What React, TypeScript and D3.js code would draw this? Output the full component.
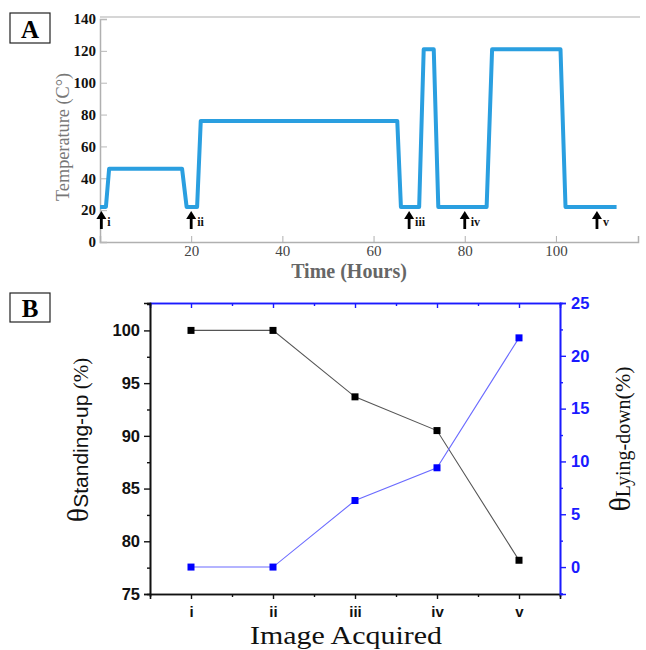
import * as d3 from "d3"
import { useEffect, useRef } from "react"

// panel A: temperature profile (hours, °C)
const timeHours = [0, 1.3, 2, 18, 19, 21.3, 22.1, 65.2, 66, 70, 71, 73.2, 74.2, 84.8, 86, 101, 102.1, 113.3]
const tempC = [22, 22, 46, 46, 22, 22, 76, 76, 22, 22, 121, 121, 22, 22, 121, 121, 22, 22]
const arrowTimes = [0.3, 20, 67.8, 80, 109]
const arrowLabels = ["i", "ii", "iii", "iv", "v"]
const tempTicks = [0, 20, 40, 60, 80, 100, 120, 140]
const timeTicks = [20, 40, 60, 80, 100]

// panel B
const stages = ["i", "ii", "iii", "iv", "v"]
const standingUp = [100, 100, 93.7, 90.5, 78.2]
const lyingDown = [0, 0, 6.3, 9.4, 21.7]
const leftTicks = [75, 80, 85, 90, 95, 100]
const rightTicks = [0, 5, 10, 15, 20, 25]

const serif = "'Liberation Serif', 'Times New Roman', serif"
const sans = "'Liberation Sans', Arial, sans-serif"

const App = () => {
  const ref = useRef<SVGSVGElement>(null)

  useEffect(() => {
    const svg = d3.select(ref.current)
    svg.selectAll("*").remove()

    // ---------- panel A ----------
    const xA = d3.scaleLinear().domain([0, 118]).range([100, 638])
    const yA = d3.scaleLinear().domain([0, 140]).range([242, 19])
    const gA = svg.append("g")

    gA.append("rect").attr("x", 10).attr("y", 13).attr("width", 40).attr("height", 30)
      .attr("fill", "none").attr("stroke", "#222").attr("stroke-width", 1.2)
    gA.append("text").attr("x", 30).attr("y", 38).attr("text-anchor", "middle")
      .attr("font-family", serif).attr("font-weight", "bold").attr("font-size", 25).text("A")

    // frame
    gA.append("line").attr("x1", 100).attr("x2", 640).attr("y1", yA(140) - 2).attr("y2", yA(140) - 2)
      .attr("stroke", "#c8c8c8").attr("stroke-width", 1.5)

    const axA = gA.append("g").attr("transform", `translate(0,${yA(0)})`)
      .call(d3.axisBottom(xA).tickValues(timeTicks).tickSize(-6).tickPadding(3))
    axA.select(".domain").attr("stroke", "#b0b0b0").attr("stroke-width", 1.5)
    axA.selectAll(".tick line").attr("stroke", "#b0b0b0")
    axA.selectAll("text").attr("font-family", serif).attr("font-size", 15).attr("fill", "#444")

    const ayA = gA.append("g").attr("transform", `translate(${xA(0)},0)`)
      .call(d3.axisLeft(yA).tickValues(tempTicks).tickSize(-7).tickPadding(4))
    ayA.select(".domain").attr("stroke", "#b0b0b0").attr("stroke-width", 1.5)
    ayA.selectAll(".tick line").attr("stroke", "#b8b8b8")
    ayA.selectAll("text").attr("font-family", serif).attr("font-weight", "bold")
      .attr("font-size", 15).attr("fill", "#111")

    gA.append("path")
      .datum(timeHours.map((t, i) => [t, tempC[i]] as [number, number]))
      .attr("fill", "none").attr("stroke", "#2a9fe0").attr("stroke-width", 4)
      .attr("stroke-linejoin", "round")
      .attr("d", d3.line().x((d) => xA(d[0])).y((d) => yA(d[1])))

    arrowTimes.forEach((t, i) => {
      const ax = xA(t)
      gA.append("line").attr("x1", ax).attr("x2", ax).attr("y1", 218).attr("y2", 229)
        .attr("stroke", "#000").attr("stroke-width", 2.8)
      gA.append("path").attr("d", `M${ax - 5},219 L${ax},211 L${ax + 5},219 Z`).attr("fill", "#000")
      gA.append("text").attr("x", ax + 6).attr("y", 226)
        .attr("font-family", serif).attr("font-weight", "bold").attr("font-size", 12)
        .attr("fill", "#111").text(arrowLabels[i])
    })

    gA.append("text").attr("x", 349).attr("y", 278).attr("text-anchor", "middle")
      .attr("font-family", serif).attr("font-weight", "bold").attr("font-size", 20)
      .attr("fill", "#666").text("Time (Hours)")
    gA.append("text").attr("transform", "translate(69,137) rotate(-90)").attr("text-anchor", "middle")
      .attr("font-family", serif).attr("font-size", 18).attr("fill", "#777")
      .attr("textLength", 128).attr("lengthAdjust", "spacingAndGlyphs").text("Temperature (C°)")

    // ---------- panel B ----------
    const xB = d3.scaleLinear().domain([0.5, 5.5]).range([150, 560])
    const yL = d3.scaleLinear().domain([75, 102.6]).range([594, 303])
    const yR = d3.scaleLinear().domain([-2.55, 25]).range([594, 303])
    const gB = svg.append("g")

    gB.append("rect").attr("x", 10).attr("y", 293).attr("width", 40).attr("height", 29)
      .attr("fill", "none").attr("stroke", "#222").attr("stroke-width", 1.2)
    gB.append("text").attr("x", 30).attr("y", 317).attr("text-anchor", "middle")
      .attr("font-family", serif).attr("font-weight", "bold").attr("font-size", 25).text("B")

    const minorX = [1.5, 2.5, 3.5, 4.5]
    const style = (g, col) => {
      g.select(".domain").attr("stroke", col).attr("stroke-width", 1.6)
      g.selectAll(".tick line").attr("stroke", col).attr("stroke-width", 1.4)
    }

    // bottom
    const bx = gB.append("g").attr("transform", `translate(0,594)`)
      .call(d3.axisBottom(xB).tickValues([1, 2, 3, 4, 5]).tickFormat((d) => stages[+d - 1]).tickSize(5).tickPadding(7))
    style(bx, "#111")
    bx.selectAll("text").attr("font-family", sans).attr("font-weight", "bold").attr("font-size", 15).attr("fill", "#111")
    gB.append("g").attr("transform", `translate(0,594)`)
      .call(d3.axisBottom(xB).tickValues(minorX).tickSize(3).tickFormat(() => ""))
      .call((g) => style(g, "#111"))
    // top
    gB.append("g").attr("transform", `translate(0,303)`)
      .call(d3.axisTop(xB).tickValues([1, 2, 3, 4, 5]).tickSize(-5).tickFormat(() => ""))
      .call((g) => style(g, "#1a1aff"))
    gB.append("g").attr("transform", `translate(0,303)`)
      .call(d3.axisTop(xB).tickValues(minorX).tickSize(-3).tickFormat(() => ""))
      .call((g) => style(g, "#1a1aff"))

    // left
    const ly = gB.append("g").attr("transform", `translate(150,0)`)
      .call(d3.axisLeft(yL).tickValues(leftTicks).tickSize(6).tickPadding(4))
    style(ly, "#111")
    ly.selectAll("text").attr("font-family", sans).attr("font-weight", "bold").attr("font-size", 16.5).attr("fill", "#111")
    gB.append("g").attr("transform", `translate(150,0)`)
      .call(d3.axisLeft(yL).tickValues([77.5, 82.5, 87.5, 92.5, 97.5, 102.5]).tickSize(3).tickFormat(() => ""))
      .call((g) => style(g, "#111"))

    // right
    const ry = gB.append("g").attr("transform", `translate(560,0)`)
      .call(d3.axisRight(yR).tickValues(rightTicks).tickSize(6).tickPadding(5))
    style(ry, "#1a1aff")
    ry.selectAll("text").attr("font-family", sans).attr("font-weight", "bold").attr("font-size", 16.5).attr("fill", "#1a1aff")
    gB.append("g").attr("transform", `translate(560,0)`)
      .call(d3.axisRight(yR).tickValues([-2.5, 2.5, 7.5, 12.5, 17.5, 22.5]).tickSize(3).tickFormat(() => ""))
      .call((g) => style(g, "#1a1aff"))

    const drawSeries = (vals, y, lineCol, markCol) => {
      gB.append("path")
        .datum(vals.map((v, i) => [i + 1, v] as [number, number]))
        .attr("fill", "none").attr("stroke", lineCol).attr("stroke-width", 1.1)
        .attr("d", d3.line().x((d) => xB(d[0])).y((d) => y(d[1])))
      gB.selectAll(null).data(vals).enter().append("rect")
        .attr("x", (_, i) => xB(i + 1) - 3.5).attr("y", (d) => y(d) - 3.5)
        .attr("width", 7).attr("height", 7).attr("fill", markCol)
    }
    drawSeries(standingUp, yL, "#555", "#000")
    drawSeries(lyingDown, yR, "#6b6bff", "#0000ff")

    gB.append("text").attr("x", 346).attr("y", 644).attr("text-anchor", "middle")
      .attr("font-family", serif).attr("font-size", 26).attr("fill", "#111")
      .attr("textLength", 192).attr("lengthAdjust", "spacingAndGlyphs").text("Image Acquired")

    const lt = gB.append("text").attr("transform", "translate(88,440) rotate(-90)")
      .attr("text-anchor", "middle").attr("fill", "#111")
    lt.append("tspan").attr("font-family", serif).attr("font-size", 30).text("θ")
    lt.append("tspan").attr("font-family", sans).attr("font-size", 21).text("Standing-up")
    lt.append("tspan").attr("font-family", serif).attr("font-size", 21).text(" (%)")

    const rt = gB.append("text").attr("transform", "translate(630,439) rotate(-90)")
      .attr("text-anchor", "middle").attr("fill", "#111")
    rt.append("tspan").attr("font-family", serif).attr("font-size", 30).text("θ")
    rt.append("tspan").attr("font-family", serif).attr("font-size", 20).text("Lying-down")
    rt.append("tspan").attr("font-family", serif).attr("font-size", 22).text("(%)")
  }, [])

  return (
    <svg ref={ref} width={646} height={650}
      style={{ position: "absolute", left: 0, top: 0, background: "#fff" }} />
  )
}

export default App
